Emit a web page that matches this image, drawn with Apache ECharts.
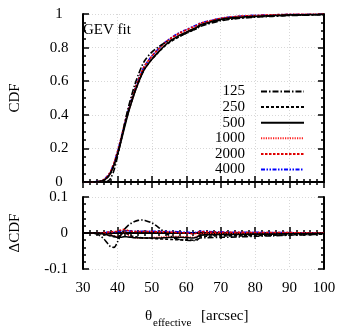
<!DOCTYPE html>
<html><head><meta charset="utf-8">
<script src="https://cdn.jsdelivr.net/npm/echarts@6/dist/echarts.min.js"></script>
<style>html,body{margin:0;padding:0;background:#fff}#c{width:353px;height:333px}</style>
</head><body><div id="c"></div>
<script>
var xs = [30,32,34,35,36,37,38,39,40,41,42,43,44,45,46,47,48,50,52,54,56,58,60,62,63,64,66,70,75,80,85,90,95,100];
// GEV fit CDF
var fitCDF = [0,0,0.002,0.005,0.013,0.03,0.06,0.11,0.175,0.25,0.33,0.41,0.48,0.545,0.60,0.65,0.69,0.745,0.79,0.83,0.86,0.885,0.905,0.925,0.932,0.94,0.952,0.972,0.984,0.99,0.994,0.997,0.998,0.999];
// Delta CDF per sample size
var d125  = [0,0,-0.003,-0.008,-0.016,-0.027,-0.038,-0.04,-0.025,-0.005,0.01,0.02,0.027,0.032,0.035,0.036,0.035,0.028,0.015,0.0,-0.012,-0.018,-0.02,-0.021,-0.02,-0.014,-0.013,-0.012,-0.011,-0.009,-0.008,-0.006,-0.005,-0.003];
var d250  = [0,0,0,-0.002,-0.004,-0.006,-0.008,-0.01,-0.01,-0.006,0.002,-0.003,-0.008,-0.01,-0.012,-0.013,-0.014,-0.015,-0.016,-0.017,-0.018,-0.019,-0.019,-0.02,-0.018,-0.01,-0.009,-0.008,-0.008,-0.007,-0.006,-0.005,-0.004,-0.003];
var d500  = [0,0,0,-0.001,-0.003,-0.005,-0.007,-0.009,-0.012,-0.012,-0.01,-0.011,-0.012,-0.013,-0.013,-0.014,-0.014,-0.014,-0.014,-0.013,-0.012,-0.012,-0.013,-0.014,-0.012,-0.006,-0.005,-0.004,-0.004,-0.003,-0.003,-0.002,-0.002,-0.001];
var d1000 = [0,0,0,-0.001,-0.002,-0.004,-0.006,-0.008,-0.01,-0.006,0.003,-0.005,-0.01,-0.013,-0.014,-0.014,-0.014,-0.013,-0.012,-0.011,-0.01,-0.01,-0.011,-0.012,-0.01,-0.002,-0.002,-0.002,-0.001,-0.001,-0.001,0,0,0];
var d2000 = [0,0,0,0,0.001,0.002,0.003,0.004,0.005,0.008,0.01,0.007,0.005,0.004,0.004,0.004,0.004,0.004,0.003,0.003,0.002,0.001,0,-0.002,-0.001,0.004,0.003,0.002,0.002,0.001,0.001,0.001,0,0];
var d4000 = [0,0,0,0,0.001,0.002,0.002,0.003,0.004,0.005,0.006,0.006,0.005,0.005,0.005,0.005,0.005,0.005,0.005,0.004,0.004,0.003,0.002,0.001,0.002,0.005,0.004,0.003,0.002,0.002,0.001,0.001,0,0];
var names = ['125','250','500','1000','2000','4000'];
var deltas = [d125,d250,d500,d1000,d2000,d4000];
var colors = ['#000000','#000000','#000000','#ff2020','#e00000','#0000ff'];
var dashes = [[6,2,1.5,2],[3,2],'solid',[1.2,1.2],[2.5,1.5],[4,1.5,1.5,1.5,1.5,1.5]];
var xTicks = [30,40,50,60,70,80,90,100];

var F = 'Liberation Serif';
var grids = [{left:76,right:29,top:14,height:168},{left:76,right:29,top:197,height:72}];
function xAx(gi, pos, labels){
  return {type:'value',gridIndex:gi,position:pos,min:30,max:100,interval:10,
    axisLine:{show:true,lineStyle:{color:'#000',width:2}},
    axisTick:{show:true,inside:true,length:6,lineStyle:{color:'#000',width:1.5}},
    minorTick:{show:true,splitNumber:5,length:3,lineStyle:{color:'#000',width:1.5}},
    axisLabel:{show:labels,fontFamily:F,fontSize:15,color:'#000',margin:12},
    splitLine:{show:pos==='bottom',lineStyle:{color:'#d8d8d8',type:[1,2],width:1}}};
}
function yAx(gi, pos, mn, mx, iv, ms, labels, align, margin, name){
  return {type:'value',gridIndex:gi,position:pos,min:mn,max:mx,interval:iv,
    name:name,nameLocation:'middle',nameRotate:90,nameGap:60,
    nameTextStyle:{fontFamily:F,fontSize:15,color:'#000'},
    axisLine:{show:true,lineStyle:{color:'#000',width:2}},
    axisTick:{show:true,inside:true,length:6,lineStyle:{color:'#000',width:1.5}},
    minorTick:{show:true,splitNumber:ms,length:3,lineStyle:{color:'#000',width:1.5}},
    axisLabel:{show:labels,fontFamily:F,fontSize:15,color:'#000',margin:margin,align:align,
      formatter:function(v){return String(Math.round(v*100)/100);}},
    splitLine:{show:pos==='left',lineStyle:{color:'#d8d8d8',type:[1,2],width:1}}};
}
var series = [];
names.forEach(function(n,i){
  var top = xs.map(function(x,k){var v=fitCDF[k]+deltas[i][k];return [x,Math.max(0,Math.min(1,v))];});
  var bot = xs.map(function(x,k){return [x,deltas[i][k]];});
  var ls = {color:colors[i],width:1.6,type:dashes[i]};
  series.push({name:n,type:'line',xAxisIndex:0,yAxisIndex:0,data:top,showSymbol:false,symbol:'none',smooth:0.3,lineStyle:ls,itemStyle:{color:colors[i]},z:10-i});
  series.push({name:n,type:'line',xAxisIndex:2,yAxisIndex:2,data:bot,showSymbol:false,symbol:'none',smooth:0.3,lineStyle:ls,itemStyle:{color:colors[i]},z:10-i});
});
var chart = echarts.init(document.getElementById('c'),null,{renderer:'canvas'});
chart.setOption({
  animation:false,
  grid:grids,
  xAxis:[xAx(0,'bottom',false),xAx(0,'top',false),xAx(1,'bottom',true),xAx(1,'top',false)],
  yAxis:[yAx(0,'left',0,1,0.2,4,true,'center',24,'CDF'),yAx(0,'right',0,1,0.2,4,false,'center',24,''),
         yAx(1,'left',-0.1,0.1,0.1,5,true,'right',15,'\u0394CDF'),yAx(1,'right',-0.1,0.1,0.1,5,false,'right',15,'')],
  legend:{data:names,orient:'vertical',align:'right',right:43,top:79,itemWidth:43,itemHeight:14,itemGap:0.6,
    itemStyle:{opacity:0},
    textStyle:{fontFamily:F,fontSize:15,lineHeight:14,color:'#000',padding:[0,11,0,0]},inactiveColor:'#ccc'},
  graphic:[
    {type:'text',left:83,top:23,style:{text:'GEV fit',font:'15px "Liberation Serif"',fill:'#000'}},
    {type:'text',left:145,top:309,style:{text:'\u03b8',font:'15px "Liberation Serif"',fill:'#000'}},
    {type:'text',left:153,top:318,style:{text:'effective',font:'11px "Liberation Serif"',fill:'#000'}},
    {type:'text',left:201,top:309,style:{text:'[arcsec]',font:'15px "Liberation Serif"',fill:'#000'}}
  ],
  series:series
});
</script></body></html>
